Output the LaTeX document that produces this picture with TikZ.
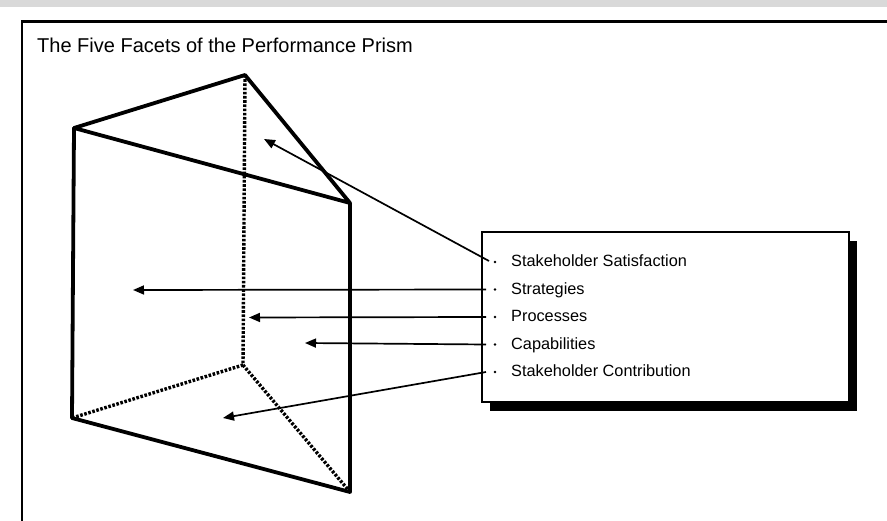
\documentclass[tikz,border=0pt]{standalone}
\usepackage{fontspec}
\setmainfont{Liberation Sans}
\usetikzlibrary{arrows.meta}
\begin{document}
\begin{tikzpicture}[x=1pt,y=-1pt,
  edge/.style={line width=3.8pt,line cap=round,line join=round},
  hidden/.style={line width=3.4pt,dash pattern=on 2.6pt off 1.6pt},
  arr/.style={line width=1.7pt,-{Triangle[length=11pt,width=9pt]}},
  item/.style={anchor=base west,inner sep=0pt,font=\fontsize{16.3}{18}\selectfont},
  bul/.style={circle,fill=black,inner sep=0pt,minimum size=2.8pt}]
\useasboundingbox (0,0) rectangle (887,521);
\clip (0,0) rectangle (887,521);
\fill[white] (0,0) rectangle (887,521);
\fill[black!15] (0,0) rectangle (887,7.5);
\draw[line width=2.8pt] (22,21.2) rectangle (900,540);
\node[anchor=base west,inner sep=0pt,font=\fontsize{20}{24}\selectfont] (title) at (37,52.5) {The Five Facets of the Performance Prism};
% prism vertices
\coordinate (A) at (74,128);
\coordinate (B) at (245,75);
\coordinate (C) at (350,203);
\coordinate (D) at (72,418);
\coordinate (E) at (243,365);
\coordinate (F) at (350,492);
\draw[hidden] (B) -- (E) -- (D);
\draw[hidden] (E) -- (F);
\draw[edge] (D) -- (A) -- (B) -- (C) -- (A);
\draw[edge] (C) -- (F) -- (D);
% legend box
\fill[black] (490,241) rectangle (857,411);
\draw[fill=white,line width=1.6pt] (482,232) rectangle (849,402);
\node[item] (i1) at (511,267) {Stakeholder Satisfaction};
\node[item] (i2) at (511,294.5) {Strategies};
\node[item] (i3) at (511,322) {Processes};
\node[item] (i4) at (511,349.5) {Capabilities};
\node[item] (i5) at (511,377) {Stakeholder Contribution};
\node[bul] (b1) at (495,262) {};
\node[bul] (b2) at (495,289.5) {};
\node[bul] (b3) at (495,317) {};
\node[bul] (b4) at (495,344.5) {};
\node[bul] (b5) at (495,372) {};
\coordinate (s1) at (489,261);
\coordinate (s2) at (486,289.5);
\coordinate (s3) at (486,317);
\coordinate (s4) at (486,344.5);
\coordinate (s5) at (486,372);
\coordinate (t1) at (264,139);
\coordinate (t2) at (133,290);
\coordinate (t3) at (249,317.5);
\coordinate (t4) at (305,343);
\coordinate (t5) at (223,418);
\draw[arr] (s1) -- (t1);
\draw[arr] (s2) -- (t2);
\draw[arr] (s3) -- (t3);
\draw[arr] (s4) -- (t4);
\draw[arr] (s5) -- (t5);
\end{tikzpicture}
\end{document}
